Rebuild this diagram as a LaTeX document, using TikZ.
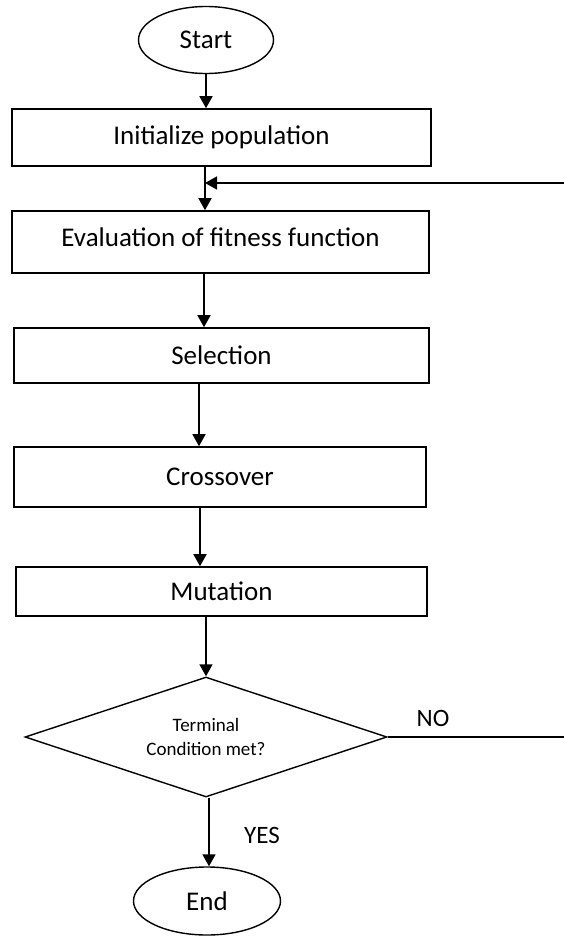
\documentclass[tikz,border=0pt]{standalone}
\usepackage{fontspec}
\setmainfont{Carlito}
\usetikzlibrary{shapes.geometric,arrows.meta}
\begin{document}
\begin{tikzpicture}[x=1pt,y=-1pt,
  every node/.style={font=\fontsize{27}{32}\selectfont},
  box/.style={draw, line width=1.6pt, rectangle, inner sep=0pt},
  term/.style={draw, line width=1.4pt, ellipse, inner sep=0pt},
  dec/.style={draw, line width=1.4pt, diamond, aspect=3, inner sep=0pt, align=center,
    font=\fontsize{19}{24}\selectfont},
  arr/.style={line width=1.6pt, -{Triangle[width=13pt,length=12pt]}},
  ln/.style={line width=1.6pt},
  lbl/.style={font=\fontsize{25}{30}\selectfont}]
\useasboundingbox (0,0) rectangle (564,936);

\node[term, minimum width=135, minimum height=67] (start) at (206,40) {Start};
\node[box, minimum width=419, minimum height=57] (init) at (221.5,137.5) {Initialize population};
\node[box, minimum width=417, minimum height=62] (eval) at (220.5,242) {};
\node (evaltext) at (220.5,237) {Evaluation of fitness function};
\node[box, minimum width=415, minimum height=55] (sel) at (221.5,355.5) {Selection};
\node[box, minimum width=412, minimum height=60] (cross) at (220,477) {Crossover};
\node[box, minimum width=411, minimum height=49] (mut) at (221.5,591.5) {Mutation};
\node[dec, minimum width=362, minimum height=120] (cond) at (206,737) {Terminal\\Condition met?};
\node[term, minimum width=147, minimum height=68] (end) at (207,901) {End};

\coordinate (noend) at (564,737);
\coordinate (loopin) at (564,183);

\node[lbl] (no) at (433,718) {NO};
\node[lbl] (yes) at (262,835) {YES};

\draw[arr] (start.south) -- (init.north -| start.south);
\draw[arr] (init.south -| 205,0) -- (eval.north -| 205,0);
\draw[arr] (loopin) -- (205,183);
\draw[arr] (eval.south -| 204,0) -- (sel.north -| 204,0);
\draw[arr] (sel.south -| 199,0) -- (cross.north -| 199,0);
\draw[arr] (cross.south -| 200,0) -- (mut.north -| 200,0);
\draw[arr] (mut.south -| 206,0) -- (cond.north);
\draw[ln] (cond.east) -- (noend);
\draw[arr] (cond.south -| 209,0) -- (end.north -| 209,0);
\end{tikzpicture}
\end{document}
